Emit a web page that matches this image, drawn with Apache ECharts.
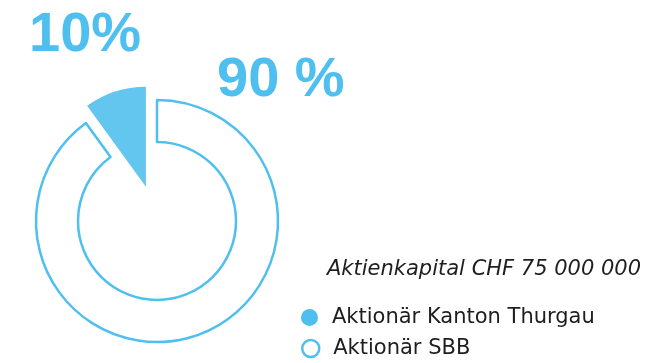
<!DOCTYPE html>
<html>
<head>
<meta charset="utf-8">
<script src="https://cdn.jsdelivr.net/npm/echarts@6/dist/echarts.min.js"></script>
<style>
  html, body { margin: 0; padding: 0; background: #fff; }
  #main { width: 650px; height: 363px; }
</style>
</head>
<body>
<div id="main"></div>
<script>
var holders = ['Aktionär Kanton Thurgau', 'Aktionär SBB'];
var shares = [10, 90];
var shareLabels = ['10%', '90 %'];
var capitalText = 'Aktienkapital CHF 75 000 000';

var blue = '#4fbfef';
var wedgeBlue = '#63c6ef';
var textFont = '"DejaVu Sans", sans-serif';
var bigFont = 'bold 56px "Liberation Sans", Arial, sans-serif';

var myChart = echarts.init(document.getElementById('main'));

// one legend per row, so each row sits where it should
function legendRow(i, top, style) {
	return {
		left: 301,
		top: top,
		padding: 0,
		itemWidth: 17,
		itemHeight: 17,
		icon: 'circle',
		selectedMode: false,
		textStyle: {
			fontFamily: textFont,
			fontSize: 21,
			color: '#1e1e1e',
			padding: [0, 0, 0, 9]
		},
		data: [{ name: holders[i], itemStyle: style }]
	};
}

myChart.setOption({
	animation: false,

	legend: [
		legendRow(0, 307, { color: blue, borderWidth: 0 }),
		legendRow(1, 338, { color: '#fff', borderColor: blue, borderWidth: 2.5 })
	],

	graphic: [
		{
			type: 'text', left: 29, top: 8,
			style: { text: shareLabels[0], fill: blue, font: bigFont }
		},
		{
			type: 'text', left: 217, top: 53,
			style: { text: shareLabels[1], fill: blue, font: bigFont }
		},
		{
			type: 'text', left: 327, top: 259,
			style: { text: capitalText, fill: '#1e1e1e', font: 'italic 21px "DejaVu Sans", sans-serif' }
		}
	],

	series: [
		{
			name: 'ring',
			type: 'pie',
			center: [157, 221],
			radius: [79, 121],
			clockwise: false,
			silent: true,
			label: { show: false },
			labelLine: { show: false },
			emphasis: { disabled: true },
			data: [
				{ name: holders[0], value: shares[0], itemStyle: { color: 'rgba(0,0,0,0)', borderWidth: 0 } },
				{ name: holders[1], value: shares[1], itemStyle: { color: '#fff', borderColor: blue, borderWidth: 2.5 } }
			]
		},
		{
			name: 'wedge',
			type: 'pie',
			center: [157, 221],
			radius: [0, 100],
			clockwise: false,
			silent: true,
			selectedMode: 'single',
			selectedOffset: 36,
			label: { show: false },
			labelLine: { show: false },
			emphasis: { disabled: true },
			data: [
				{ name: holders[0], value: shares[0], selected: true, itemStyle: { color: wedgeBlue } },
				{ name: holders[1], value: shares[1], itemStyle: { color: 'rgba(0,0,0,0)' } }
			]
		}
	]
});
</script>
</body>
</html>
